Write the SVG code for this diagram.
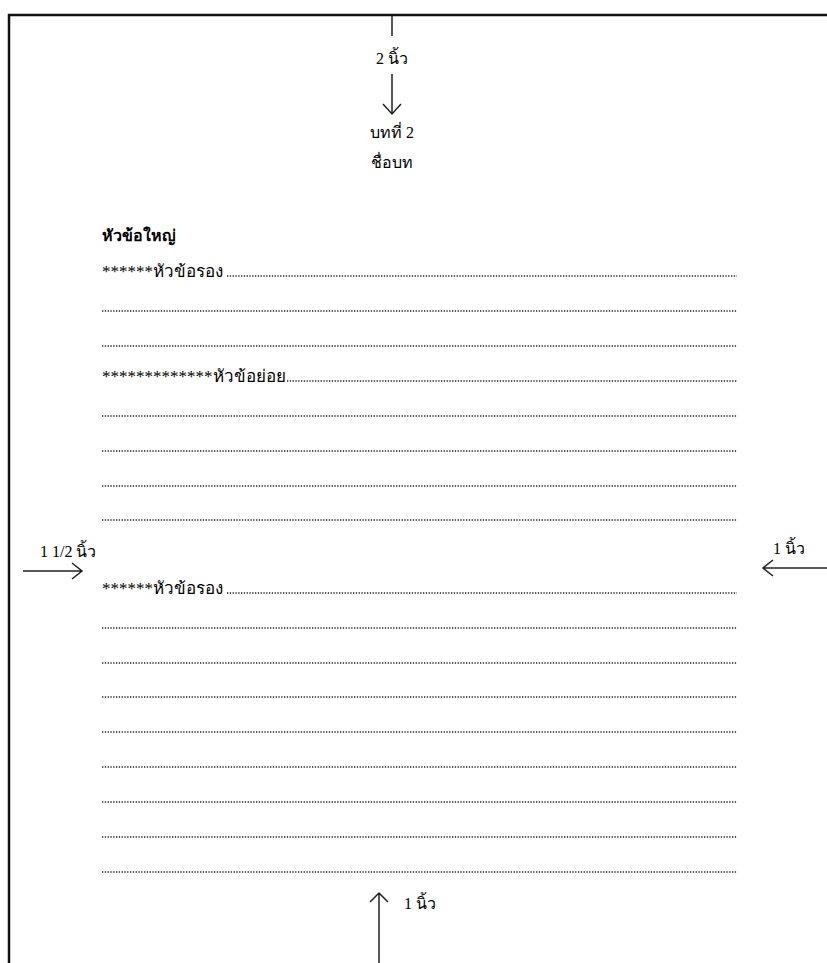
<svg xmlns="http://www.w3.org/2000/svg" width="827" height="963" viewBox="0 0 827 963">
<style>
.t{font-family:"Liberation Serif","Noto Sans",serif;font-size:16px;fill:#000}
.r{font-size:17px}
.b{font-weight:bold}
.dots{stroke:#222;stroke-width:1.3;stroke-dasharray:1.3 1.5}
.arr{stroke:#222;stroke-width:1.5;fill:none}
</style>
<rect width="827" height="963" fill="#fff"/>
<g id="border"><path d="M9 963V15H827" fill="none" stroke="#111" stroke-width="2.5"/></g>
<g id="connectors">
<path class="arr" d="M392 16V36"/>
<path class="arr" d="M392 74V114M383 104L392 114L401 104"/>
<path class="arr" d="M23 571H82M72 563L82 571L72 579"/>
<path class="arr" d="M827 568H763M773 560L763 568L773 576"/>
<path class="arr" d="M379 963V893M370 902L379 893L388 902"/>
</g>
<g id="label-top"><text class="t" x="392" y="64" text-anchor="middle">2 นิ้ว</text></g>
<g id="chapter"><text class="t" x="392" y="138" text-anchor="middle">บทที่ 2</text><text class="t" x="392" y="168" text-anchor="middle">ชื่อบท</text></g>
<g id="label-left"><text class="t" x="40" y="557">1 1/2 นิ้ว</text></g>
<g id="label-right"><text class="t" x="773" y="554">1 นิ้ว</text></g>
<g id="label-bottom"><text class="t" x="404" y="909">1 นิ้ว</text></g>
<g id="heading"><text class="t b" x="102" y="241">หัวข้อใหญ่</text></g>
<g id="body">
<text class="t r" x="102" y="277">******หัวข้อรอง</text>
<line class="dots" x1="227" y1="276" x2="737" y2="276"/>
<line class="dots" x1="102" y1="311" x2="737" y2="311"/>
<line class="dots" x1="102" y1="346" x2="737" y2="346"/>
<text class="t r" x="102" y="382">*************หัวข้อย่อย</text>
<line class="dots" x1="287" y1="381" x2="737" y2="381"/>
<line class="dots" x1="102" y1="416" x2="737" y2="416"/>
<line class="dots" x1="102" y1="451" x2="737" y2="451"/>
<line class="dots" x1="102" y1="486" x2="737" y2="486"/>
<line class="dots" x1="102" y1="520" x2="737" y2="520"/>
<text class="t r" x="102" y="594">******หัวข้อรอง</text>
<line class="dots" x1="227" y1="593" x2="737" y2="593"/>
<line class="dots" x1="102" y1="628" x2="737" y2="628"/>
<line class="dots" x1="102" y1="663" x2="737" y2="663"/>
<line class="dots" x1="102" y1="697" x2="737" y2="697"/>
<line class="dots" x1="102" y1="732" x2="737" y2="732"/>
<line class="dots" x1="102" y1="767" x2="737" y2="767"/>
<line class="dots" x1="102" y1="802" x2="737" y2="802"/>
<line class="dots" x1="102" y1="837" x2="737" y2="837"/>
<line class="dots" x1="102" y1="872" x2="737" y2="872"/>
</g>
</svg>
